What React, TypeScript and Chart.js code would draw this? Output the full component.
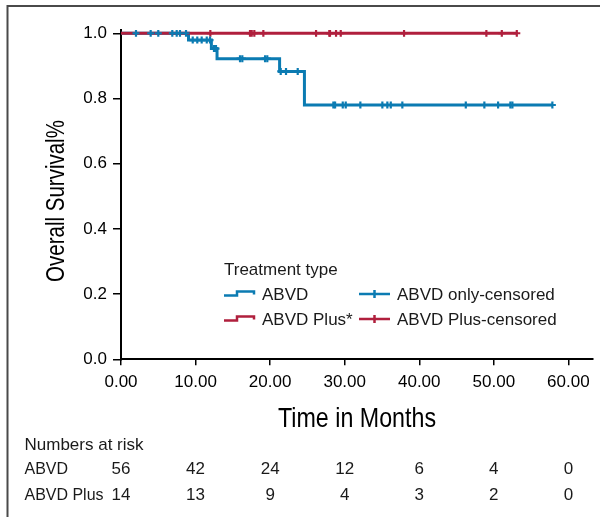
import React, { useEffect, useRef } from "react";
import { Chart, registerables } from "chart.js";

Chart.register(...registerables);

// ---- Data ----
const abvdTimes = [0, 9.05, 12.12, 12.88, 21.27, 24.6, 57.85];
const abvdSurvival = [1, 0.979, 0.953, 0.922, 0.883, 0.78, 0.78];
const plusTimes = [0, 53.08];
const plusSurvival = [1, 1];
const abvdCensored = [
  2.01, 3.98, 5.0, 6.88, 7.47, 7.91, 8.72, 9.62, 10.23, 10.82, 11.5, 11.94,
  12.47, 12.74, 15.96, 16.27, 19.32, 19.62, 21.42, 22.13, 23.7, 28.48, 28.71,
  29.74, 30.14, 32.1, 35.05, 35.72, 36.18, 37.73, 46.24, 48.73, 50.57, 52.22,
  52.49, 57.85,
];
const plusCensored = [
  11.98, 17.3, 17.53, 17.88, 19.09, 26.16, 27.94, 28.03, 28.84, 29.47, 37.96,
  49.0, 51.07, 53.08,
];
const xTicks = [0, 10, 20, 30, 40, 50, 60];
const yTicks = [0, 0.2, 0.4, 0.6, 0.8, 1.0];
const riskTimes = [0, 10, 20, 30, 40, 50, 60];
const abvdAtRisk = [56, 42, 24, 12, 6, 4, 0];
const plusAtRisk = [14, 13, 9, 4, 3, 2, 0];
const groupNames = ["ABVD", "ABVD Plus*"];
const censorNames = ["ABVD only-censored", "ABVD Plus-censored"];
const riskRowNames = ["ABVD", "ABVD Plus"];

const BLUE = "#0b7bb2";
const RED = "#b01f3d";
const FONT = "'Liberation Sans', Arial, sans-serif";
const TEXT = "#1a1a1a";

function survivalAt(times: number[], surv: number[], t: number) {
  let s = surv[0];
  for (let i = 0; i < times.length; i++) if (times[i] <= t) s = surv[i];
  return s;
}

const overlay = {
  id: "overlay",
  afterDraw(chart: any) {
    const ctx = chart.ctx as CanvasRenderingContext2D;
    const xs = chart.scales.x;
    ctx.save();
    // frame
    ctx.strokeStyle = "#4a4a4a";
    ctx.lineWidth = 2;
    ctx.beginPath();
    ctx.moveTo(7.5, 517);
    ctx.lineTo(7.5, 6);
    ctx.lineTo(600, 6);
    ctx.stroke();

    // axis titles (condensed)
    ctx.fillStyle = "#000";
    ctx.textAlign = "center";
    ctx.textBaseline = "alphabetic";
    ctx.save();
    ctx.translate(64, 201);
    ctx.rotate(-Math.PI / 2);
    ctx.scale(0.82, 1);
    ctx.font = `25px ${FONT}`;
    ctx.fillText("Overall Survival%", 0, 0);
    ctx.restore();

    ctx.save();
    ctx.translate((chart.chartArea.left + chart.chartArea.right) / 2, 427);
    ctx.scale(0.83, 1);
    ctx.font = `28px ${FONT}`;
    ctx.fillText("Time in Months", 0, 0);
    ctx.restore();

    // legend
    ctx.fillStyle = TEXT;
    ctx.textAlign = "left";
    ctx.font = `17px ${FONT}`;
    ctx.fillText("Treatment type", 224, 275);
    const colors = [BLUE, RED];
    const bases = [300, 325];
    for (let i = 0; i < 2; i++) {
      const b = bases[i];
      ctx.strokeStyle = colors[i];
      ctx.lineWidth = 2.5;
      ctx.beginPath();
      ctx.moveTo(224, b - 4.5);
      ctx.lineTo(237, b - 4.5);
      ctx.lineTo(237, b - 8.5);
      ctx.lineTo(254, b - 8.5);
      ctx.lineTo(254, b - 5.5);
      ctx.stroke();
      ctx.fillStyle = TEXT;
      ctx.fillText(groupNames[i], 262, b);

      ctx.beginPath();
      ctx.moveTo(359, b - 6);
      ctx.lineTo(390, b - 6);
      ctx.moveTo(374.5, b - 10);
      ctx.lineTo(374.5, b - 2);
      ctx.stroke();
      ctx.fillText(censorNames[i], 397, b);
    }

    // numbers at risk
    ctx.fillText("Numbers at risk", 24.5, 450);
    const rows = [abvdAtRisk, plusAtRisk];
    const rowBase = [474, 500];
    for (let r = 0; r < 2; r++) {
      ctx.textAlign = "left";
      ctx.save();
      ctx.translate(24.5, rowBase[r]);
      ctx.scale(0.94, 1);
      ctx.fillText(riskRowNames[r], 0, 0);
      ctx.restore();
      ctx.textAlign = "center";
      for (let i = 0; i < riskTimes.length; i++) {
        ctx.fillText(String(rows[r][i]), xs.getPixelForValue(riskTimes[i]), rowBase[r]);
      }
    }
    ctx.restore();
  },
};

export default function App() {
  const ref = useRef<HTMLCanvasElement | null>(null);
  useEffect(() => {
    if (!ref.current) return;
    const chart = new Chart(ref.current, {
      type: "line",
      data: {
        datasets: [
          {
            label: censorNames[0],
            data: abvdCensored.map((t) => ({ x: t, y: survivalAt(abvdTimes, abvdSurvival, t) })),
            showLine: false,
            pointStyle: "cross",
            pointRadius: 3.5,
            pointBorderWidth: 2.2,
            borderColor: BLUE,
            backgroundColor: BLUE,
          },
          {
            label: censorNames[1],
            data: plusCensored.map((t) => ({ x: t, y: survivalAt(plusTimes, plusSurvival, t) })),
            showLine: false,
            pointStyle: "cross",
            pointRadius: 3.5,
            pointBorderWidth: 2.2,
            borderColor: RED,
            backgroundColor: RED,
          },
          {
            label: groupNames[1],
            data: plusTimes.map((t, i) => ({ x: t, y: plusSurvival[i] })),
            stepped: true,
            borderColor: RED,
            borderWidth: 3,
            pointRadius: 0,
            fill: false,
          },
          {
            label: groupNames[0],
            data: abvdTimes.map((t, i) => ({ x: t, y: abvdSurvival[i] })),
            stepped: true,
            borderColor: BLUE,
            borderWidth: 3,
            pointRadius: 0,
            fill: false,
          },
        ],
      },
      options: {
        animation: false,
        responsive: false,
        devicePixelRatio: 1,
        layout: { padding: { top: 30, right: 7, left: 0, bottom: 0 } },
        plugins: { legend: { display: false }, tooltip: { enabled: false } },
        scales: {
          x: {
            type: "linear",
            min: 0,
            max: 63.3,
            afterBuildTicks: (s: any) => {
              s.ticks = xTicks.map((v) => ({ value: v }));
            },
            afterFit: (s: any) => {
              s.height = 157.7;
            },
            ticks: {
              callback: (v: any) => Number(v).toFixed(2),
              font: { family: FONT, size: 17 },
              color: "#000",
              padding: 7,
              maxRotation: 0,
              autoSkip: false,
            },
            grid: { drawOnChartArea: false, tickLength: 6, color: "#000", lineWidth: 1.5 },
            border: { color: "#000", width: 2 },
          },
          y: {
            type: "linear",
            min: 0,
            max: 1.01,
            afterBuildTicks: (s: any) => {
              s.ticks = yTicks.map((v) => ({ value: v }));
            },
            afterFit: (s: any) => {
              s.width = 121;
            },
            ticks: {
              callback: (v: any) => Number(v).toFixed(1),
              font: { family: FONT, size: 17 },
              color: "#000",
              padding: 6,
            },
            grid: { drawOnChartArea: false, tickLength: 8, color: "#000", lineWidth: 1.5 },
            border: { color: "#000", width: 2 },
          },
        },
      },
      plugins: [overlay],
    });
    return () => chart.destroy();
  }, []);
  return (
    <div style={{ position: "absolute", left: 0, top: 0, width: 600, height: 517, background: "#fff" }}>
      <canvas ref={ref} width={600} height={517} style={{ display: "block" }} />
    </div>
  );
}
